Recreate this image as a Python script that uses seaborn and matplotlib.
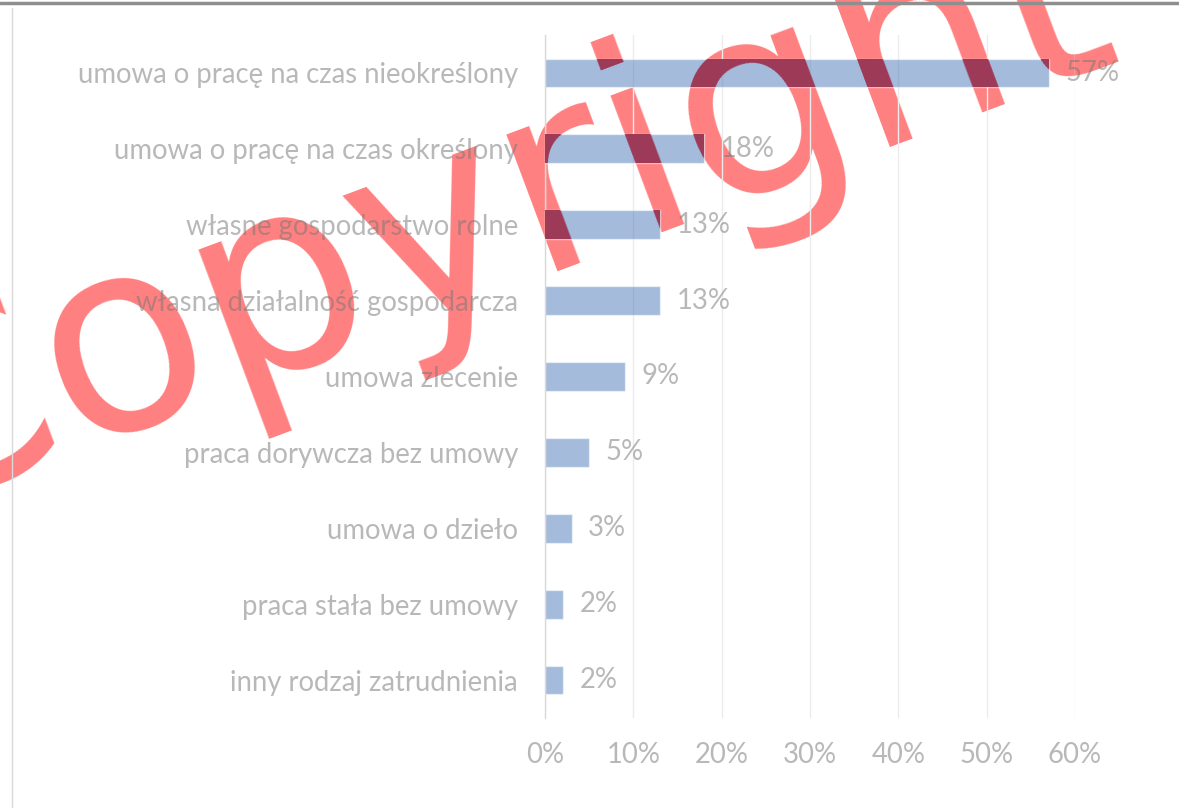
import matplotlib
matplotlib.use("Agg")
import matplotlib.pyplot as plt
import seaborn as sns
import pandas as pd
from matplotlib.lines import Line2D

categories = [
    "umowa o pracę na czas nieokreślony",
    "umowa o pracę na czas określony",
    "własne gospodarstwo rolne",
    "własna działalność gospodarcza",
    "umowa zlecenie",
    "praca dorywcza bez umowy",
    "umowa o dzieło",
    "praca stała bez umowy",
    "inny rodzaj zatrudnienia",
]
values = [0.57, 0.18, 0.13, 0.13, 0.09, 0.05, 0.03, 0.02, 0.02]
value_labels = ["57%", "18%", "13%", "13%", "9%", "5%", "3%", "2%", "2%"]
x_ticks = [0.0, 0.1, 0.2, 0.3, 0.4, 0.5, 0.6]
x_tick_labels = ["0%", "10%", "20%", "30%", "40%", "50%", "60%"]
watermark = "Copyright"

W, H = 1179, 808
sns.set_theme(style="white")
plt.rcParams["font.family"] = ["Lato", "DejaVu Sans"]

fig = plt.figure(figsize=(W / 100, H / 100), dpi=100)
fig.patch.set_facecolor("white")

ax = fig.add_axes([545 / W, 1 - 718 / H, 530 / W, 683 / H])
ax.set_facecolor("none")

df = pd.DataFrame({"cat": categories, "val": values})
sns.barplot(data=df, x="val", y="cat", orient="h", color="#4a79bb",
            saturation=1, alpha=0.5, width=0.38, ax=ax)

ax.set_xlim(0, 0.6)
ax.set_ylim(len(categories) - 0.5, -0.5)
ax.set_xlabel("")
ax.set_ylabel("")

# font size matched to label width
renderer = fig.canvas.get_renderer()
probe = fig.text(0, 0, categories[0], fontsize=20, family="Lato")
w = probe.get_window_extent(renderer).width
probe.remove()
fs = 20 * 441 / w

text_color = (0.47, 0.47, 0.47, 0.52)
ax.set_xticks(x_ticks)
ax.set_xticklabels(x_tick_labels, fontsize=fs, color=text_color)
ax.set_yticks(range(len(categories)))
ax.set_yticklabels(categories, fontsize=fs, color=text_color)
ax.tick_params(axis="y", length=0, pad=19.4)
ax.tick_params(axis="x", length=0, pad=17)

ax.grid(axis="x", color="#ebebeb", lw=1)
ax.grid(axis="y", visible=False)
ax.set_axisbelow(True)
for s in ["top", "right", "bottom"]:
    ax.spines[s].set_visible(False)
ax.spines["left"].set_color("#d9d9d9")
ax.spines["left"].set_linewidth(1)

for i, (v, lab) in enumerate(zip(values, value_labels)):
    ax.annotate(lab, (v, i), xytext=(12, 0), textcoords="offset points",
                va="center", ha="left", fontsize=fs, color=text_color,
                annotation_clip=False)

# watermark behind the chart
wm_x, wm_y = -103 / W, 1 - 513 / H
wm_kw = dict(fontsize=193, family="DejaVu Sans", rotation=20.5,
             rotation_mode="anchor", ha="left", va="baseline")
fig.text(wm_x, wm_y, watermark, color=(1, 0, 0, 0.5), zorder=-1, **wm_kw)
# darker overlap on bars
for p in ax.patches:
    t = fig.text(wm_x, wm_y, watermark, color="#9c3a58", zorder=1, **wm_kw)
    t.set_clip_path(p)

# frame lines
fig.add_artist(Line2D([0, 1], [1 - 3 / H] * 2, transform=fig.transFigure,
                      color="#8f8f8f", lw=2.5, zorder=5))
fig.add_artist(Line2D([12 / W] * 2, [0, 1 - 8 / H], transform=fig.transFigure,
                      color="#d9d9d9", lw=1, zorder=5))

fig.savefig("out.png", dpi=100)
